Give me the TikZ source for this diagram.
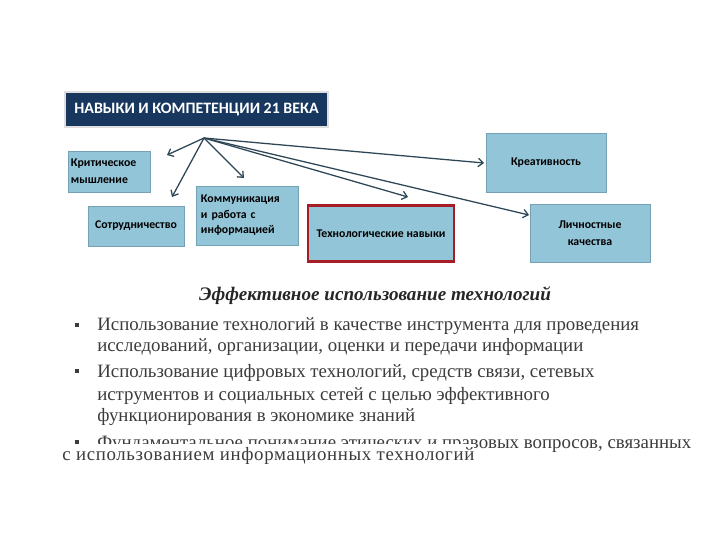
\documentclass[tikz,border=0pt]{standalone}
\usepackage{fontspec}
\setmainfont{Liberation Serif}
\newfontfamily\boxfont{Carlito}
\usetikzlibrary{arrows.meta}

\definecolor{skillblue}{RGB}{147,197,216}
\definecolor{skillline}{RGB}{118,160,180}
\definecolor{titlebg}{RGB}{24,55,95}
\definecolor{arrowc}{RGB}{45,70,85}
\definecolor{techred}{RGB}{165,30,38}
\definecolor{bodytext}{RGB}{60,60,60}

\begin{document}
\begin{tikzpicture}[x=0.025cm, y=-0.025cm,
    skill/.style={draw=skillline, fill=skillblue, inner sep=0pt,
      font=\boxfont\bfseries\fontsize{8.4}{12}\selectfont},
    link/.style={draw=arrowc, line width=0.9pt,
      -{Straight Barb[length=3.5pt,width=6pt]}},
    bullet/.style={anchor=base west, inner sep=0pt, text=bodytext,
      font=\fontsize{13.4}{15}\selectfont},
    sq/.style={fill=bodytext, inner sep=0pt, minimum size=0.1cm},
  ]
  \useasboundingbox[fill=white] (0,0) rectangle (720,540);

  % Title
  \node[fill=titlebg, draw=gray!25, line width=1.2pt,
        minimum width=6.575cm, minimum height=0.875cm, inner sep=0pt,
        text=white, font=\boxfont\bfseries\fontsize{11.3}{13}\selectfont]
        (title) at (196.5,109.5) {НАВЫКИ И КОМПЕТЕНЦИИ 21 ВЕКА};

  % Skill boxes
  \node[skill, minimum width=2.05cm, minimum height=1.025cm,
        text width=1.9cm, inner xsep=0.075cm, align=left]
        (krit) at (109,171.5) {Критическое\\мышление};
  \node[skill, minimum width=2.4cm, minimum height=1cm, align=center]
        (sotr) at (136,226) {Сотрудничество};
  \node[skill, minimum width=2.55cm, minimum height=1.475cm,
        text width=2.3cm, inner xsep=0.125cm, align=left,
        font=\boxfont\bfseries\fontsize{8.4}{11}\selectfont]
        (komm) at (247,215.5) {Коммуникация\\и работа с\\информацией};
  \node[skill, draw=techred, line width=2pt, minimum width=3.65cm,
        minimum height=1.4cm, align=center]
        (tech) at (381,233.5) {Технологические навыки};
  \node[skill, minimum width=3cm, minimum height=1.475cm, align=center]
        (kreat) at (546,162.5) {Креативность};
  \node[skill, minimum width=3cm, minimum height=1.45cm, align=center]
        (lichn) at (590,233) {Личностные\\качества};

  % Arrows from one point
  \coordinate (hub) at (204,138);
  \coordinate (tKrit) at (167,155);
  \coordinate (tSotr) at (172,197);
  \coordinate (tKomm) at (244,178);
  \coordinate (tTech) at (408,197);
  \coordinate (tKreat) at (484,163);
  \coordinate (tLichn) at (529,215);
  \foreach \t in {tKrit,tSotr,tKomm,tTech,tKreat,tLichn}
    \draw[link] (hub) -- (\t);

  % Text below
  \node[font=\bfseries\itshape\fontsize{13.6}{16}\selectfont, text=black!85]
        (head) at (375,296) {Эффективное использование технологий};

  \node[sq] (s1) at (77,325) {};
  \node[sq] (s2) at (77,371) {};
  \node[sq] (s3) at (77,442) {};

  \node[bullet] (l1) at (97,330) {Использование технологий в качестве инструмента для проведения};
  \node[bullet] (l2) at (97,351) {исследований, организации, оценки и передачи информации};
  \node[bullet] (l3) at (97,377) {Использование цифровых технологий, средств связи, сетевых};
  \node[bullet] (l4) at (97,400) {иструментов и социальных сетей с целью эффективного};
  \node[bullet] (l5) at (97,421) {функционирования в экономике знаний};
  \node[bullet] (l6) at (97,448) {Фундаментальное понимание этических и правовых вопросов, связанных};
  \node[bullet, fill=white, inner ysep=1.3pt, text height=10pt,
        font=\addfontfeature{LetterSpace=3.5}\fontsize{13.4}{15}\selectfont]
        (l7) at (62,460) {с использованием информационных технологий};
\end{tikzpicture}
\end{document}
